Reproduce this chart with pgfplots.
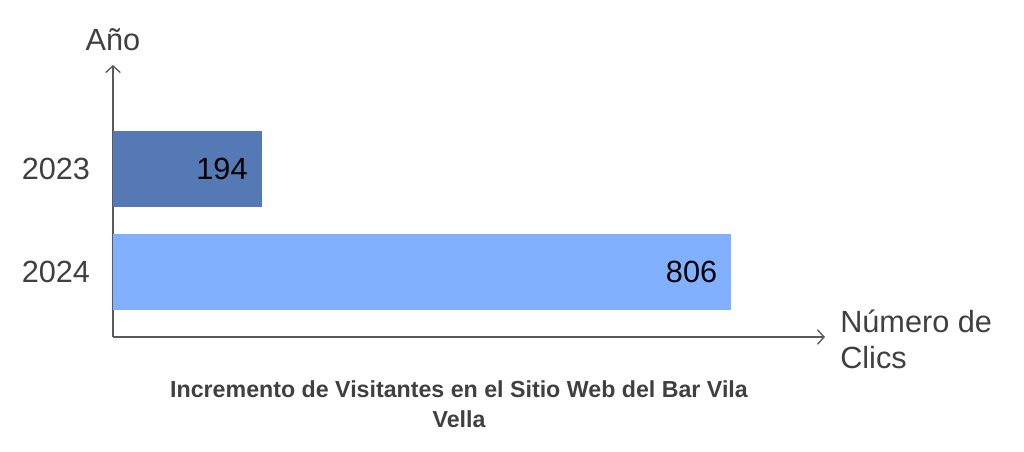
\documentclass[border=0pt]{standalone}
\usepackage{fontspec}
\setmainfont{Liberation Sans}
\usepackage{pgfplots}
\pgfplotsset{compat=1.18}
\usetikzlibrary{arrows.meta}

\definecolor{bardark}{HTML}{5579B5}
\definecolor{barlight}{HTML}{80B0FF}
\definecolor{txtgray}{HTML}{404040}
\definecolor{axgray}{HTML}{5A5A5A}

\begin{document}
\begin{tikzpicture}
\begin{axis}[
    scale only axis,
    width=534pt, height=204pt,
    xbar, bar width=57pt, bar shift=0pt,
    xmin=0, xmax=928,
    ymin=-0.631, ymax=2.010,
    axis lines=left,
    axis line style={axgray, line width=1pt, -{Straight Barb[length=5pt,width=11pt]}},
    xtick=\empty,
    ytick={0,1}, yticklabels={2024,2023},
    major tick length=0pt,
    /pgf/number format/assume math mode=true,
    yticklabel style={font=\fontsize{23}{27}\selectfont, text=txtgray, anchor=east, inner sep=0pt, xshift=-17pt},
    nodes near coords,
    every node near coord/.append style={anchor=east, inner sep=0pt, xshift=-10.5pt, text=black, font=\fontsize{23}{27}\selectfont},
    clip=false,
]
\addplot[fill=bardark, draw=none] coordinates {(194,1)};
\addplot[fill=barlight, draw=none] coordinates {(806,0)};

\coordinate (O) at (rel axis cs:0,0);
\node[anchor=base, text=txtgray, font=\fontsize{23}{27}\selectfont, inner sep=0pt]
  at ([yshift=11.25pt]rel axis cs:0,1) {Año};
\node[anchor=base west, text=txtgray, font=\fontsize{23}{27}\selectfont, inner sep=0pt]
  at ([xshift=11.25pt, yshift=3.75pt]rel axis cs:1,0) {Número de};
\node[anchor=base west, text=txtgray, font=\fontsize{23}{27}\selectfont, inner sep=0pt]
  at ([xshift=11.25pt, yshift=-23.25pt]rel axis cs:1,0) {Clics};
\node[anchor=base, text=txtgray, font=\bfseries\fontsize{17.4}{20}\selectfont, inner sep=0pt]
  at ([xshift=259.5pt, yshift=-45.5pt]rel axis cs:0,0) {Incremento de Visitantes en el Sitio Web del Bar Vila};
\node[anchor=base, text=txtgray, font=\bfseries\fontsize{17.4}{20}\selectfont, inner sep=0pt]
  at ([xshift=259.5pt, yshift=-67.5pt]rel axis cs:0,0) {Vella};
\end{axis}
\pgfresetboundingbox
\path[use as bounding box] ([shift={(-84.75pt,-85.5pt)}]O) rectangle ++(768pt,338.25pt);
\end{tikzpicture}
\end{document}
